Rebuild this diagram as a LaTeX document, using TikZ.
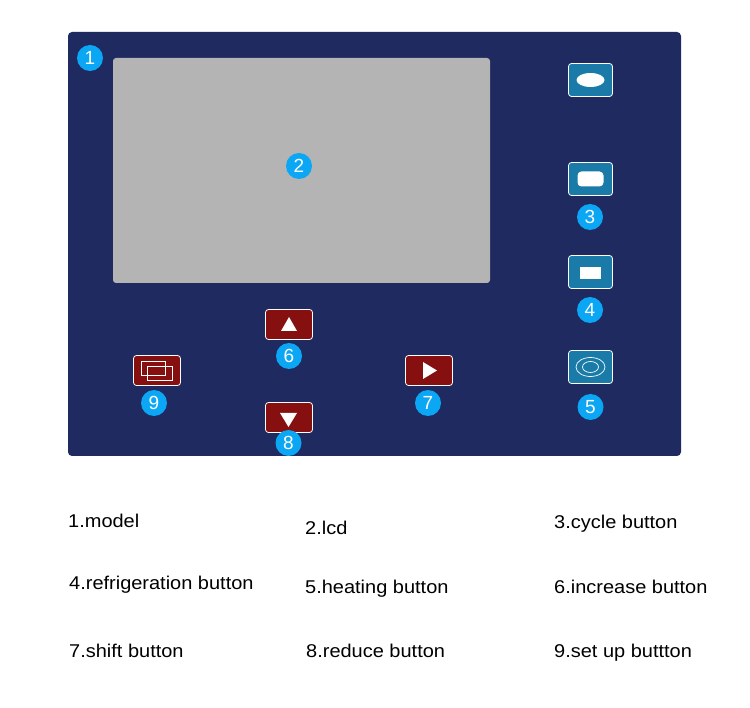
\documentclass[tikz,border=0pt]{standalone}
\usepackage{fontspec}
\setmainfont{Liberation Sans}
\newfontfamily\legendfont[FakeStretch=1.08]{Liberation Sans}
\usepackage{xcolor}
\usetikzlibrary{arrows.meta, positioning, shapes.geometric, calc}
\definecolor{panelblue}{HTML}{1F2A60}
\definecolor{lcdgray}{HTML}{B4B4B4}
\definecolor{keyblue}{HTML}{1A7BA8}
\definecolor{keyred}{HTML}{860F10}
\definecolor{badgeblue}{HTML}{0BA7F5}
\tikzstyle{panel} = [rectangle, rounded corners=4pt, minimum width=613pt, minimum height=424pt, inner sep=0pt, fill=panelblue]
\tikzstyle{lcd} = [rectangle, rounded corners=3pt, minimum width=377pt, minimum height=225pt, inner sep=0pt, fill=lcdgray]
\tikzstyle{bluekey} = [rectangle, rounded corners=3pt, minimum width=44pt, minimum height=33pt, inner sep=0pt, draw=white, line width=0.8pt, fill=keyblue]
\tikzstyle{redkey} = [rectangle, rounded corners=3pt, minimum width=47pt, minimum height=30pt, inner sep=0pt, draw=white, line width=0.8pt, fill=keyred]
\tikzstyle{badge} = [circle, minimum size=26pt, inner sep=0pt, fill=badgeblue, text=white, font=\fontsize{19}{19}\selectfont]
\tikzstyle{legend} = [anchor=base west, inner sep=0pt, font=\legendfont\fontsize{18.5}{20}\selectfont]
\tikzstyle{solidmark} = [inner sep=0pt, fill=white]
\tikzstyle{thinmark} = [inner sep=0pt, draw=white, line width=0.7pt]

\begin{document}
\begin{tikzpicture}[x=1pt, y=-1pt]
\useasboundingbox (0,0) rectangle (750,708);

\node (panel) [panel] at (374.5,244) {};
\node (screen) [lcd] at (301.5,170.5) {};

% Blue keys on the right
\node (ovalkey) [bluekey] at (590.5,80) {};
\node (cyclekey) [bluekey] at (590.5,179) {};
\node (coolkey) [bluekey] at (590.5,272) {};
\node (heatkey) [bluekey] at (590.5,367) {};

\node (ovalmark) [solidmark, ellipse, minimum width=28pt, minimum height=14pt] at (ovalkey) {};
\node (cyclemark) [solidmark, rounded corners=4pt, minimum width=26pt, minimum height=15pt] at (cyclekey) {};
\node (coolmark) [solidmark, minimum width=21pt, minimum height=12pt] at (590.5,273) {};
\node (heatouter) [thinmark, ellipse, minimum width=29pt, minimum height=19pt] at (heatkey) {};
\node (heatinner) [thinmark, ellipse, minimum width=16pt, minimum height=11pt] at (heatkey) {};

% Red keys
\node (upkey) [redkey] at (289,324.5) {};
\node (downkey) [redkey] at (289,417.5) {};
\node (setkey) [redkey] at (157,370.5) {};
\node (shiftkey) [redkey] at (429,370.5) {};

\fill [white] (281,331) -- (297,331) -- (289,317) -- cycle;
\fill [white] (280,413) -- (297,413) -- (288.5,427) -- cycle;
\fill [white] (423,362) -- (437,370.5) -- (423,379) -- cycle;
\node (setback) [thinmark, minimum width=24.5pt, minimum height=14pt] at (153.5,368) {};
\node (setfront) [thinmark, minimum width=24.5pt, minimum height=14pt] at (160,373) {};

% Numbered badges
\node (one) [badge] at (90,58) {1};
\node (two) [badge] at (299,166) {2};
\node (three) [badge] at (590,217) {3};
\node (four) [badge] at (590,310) {4};
\node (five) [badge] at (590.5,407) {5};
\node (six) [badge] at (289,356) {6};
\node (seven) [badge] at (428,403) {7};
\node (eight) [badge] at (288.5,443) {8};
\node (nine) [badge] at (154,403) {9};

% Legend
\node (model) [legend] at (68,527) {1.model};
\node (lcdname) [legend] at (305,534) {2.lcd};
\node (cycle) [legend] at (554,529) {3.cycle button};
\node (refrigeration) [legend] at (69,589) {4.refrigeration button};
\node (heating) [legend] at (305,593) {5.heating button};
\node (increase) [legend] at (554,593) {6.increase button};
\node (shift) [legend] at (69,657) {7.shift button};
\node (reduce) [legend] at (306,657) {8.reduce button};
\node (setup) [legend] at (554,657) {9.set up buttton};

\end{tikzpicture}
\end{document}
